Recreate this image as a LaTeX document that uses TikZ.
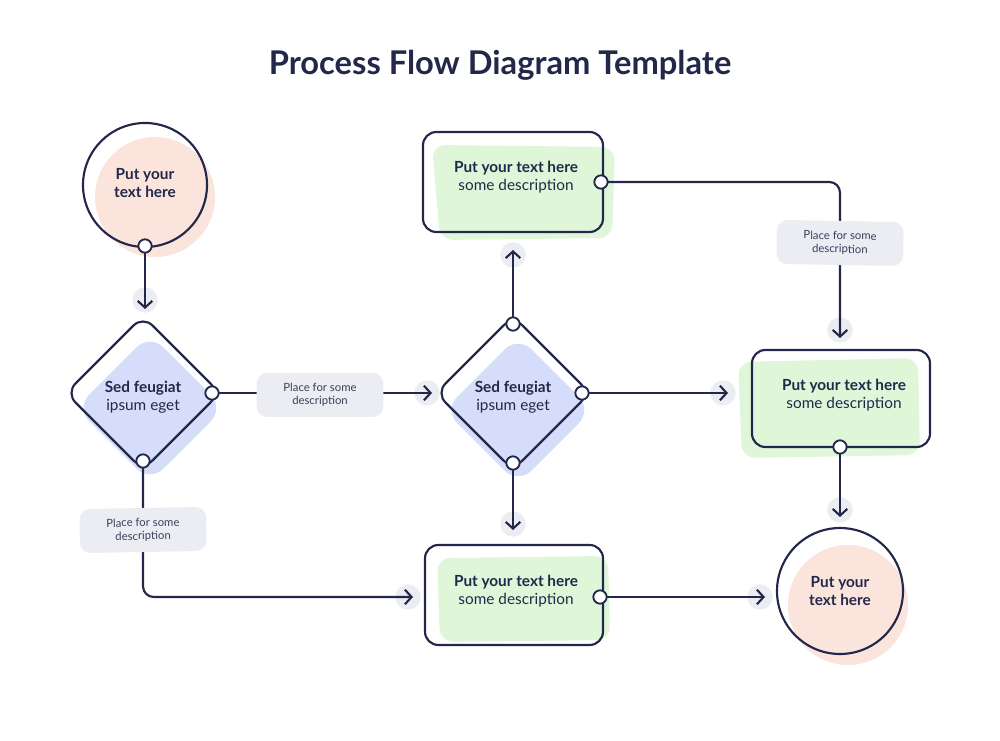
\documentclass[tikz,border=0pt]{standalone}
\usepackage{fontspec}
\setmainfont{Lato}
\usetikzlibrary{arrows.meta}
\definecolor{navy}{HTML}{23284A}
\definecolor{pinkb}{HTML}{FBE4DB}
\definecolor{blueb}{HTML}{D6DDFA}
\definecolor{greenb}{HTML}{E0F6D9}
\definecolor{greyb}{HTML}{ECEDF2}
\definecolor{greyt}{HTML}{3A3F5C}
\tikzset{
  ln/.style={draw=navy,line width=1.6pt},
  arr/.style={ln,-{Straight Barb[length=5pt,width=11pt,line width=1.6pt]},rounded corners=8pt},
  port/.style={circle,draw=navy,fill=white,line width=1.4pt,inner sep=0pt,minimum size=10pt},
  halo/.style={circle,fill=greyb,inner sep=0pt,minimum size=19pt},
  lab/.style={fill=greyb,rounded corners=8pt,minimum width=95pt,minimum height=33pt,align=center,font=\fontsize{8.5}{10}\selectfont,text=greyt},
  ttl/.style={align=center,text=navy,font=\fontsize{11.5}{13.5}\selectfont},
}
\begin{document}
\begin{tikzpicture}[x=0.75pt,y=-0.75pt]
\useasboundingbox (0,0) rectangle (1000,741);
\fill[white] (0,0) rectangle (1000,741);
\node[text=navy,font=\bfseries\fontsize{24.5}{28}\selectfont] (title) at (500,65) {Process Flow Diagram Template};
% blobs
\fill[pinkb] (155,197) circle (60);
\fill[pinkb] (848,605) circle (60);
\fill[blueb,rounded corners=14pt] (150,334)--(224,408)--(150,482)--(76,408)--cycle;
\fill[blueb,rounded corners=14pt] (518,336)--(592,410)--(518,484)--(444,410)--cycle;
\fill[greenb,rounded corners=10pt] (432,145)--(615,147)--(612,238)--(440,240)--cycle;
\fill[greenb,rounded corners=10pt] (738,362)--(918,358)--(920,455)--(742,458)--cycle;
\fill[greenb,rounded corners=10pt] (437,558)--(608,556)--(610,640)--(440,642)--cycle;
% shapes
\draw[ln] (145,185) circle (62);
\node[ttl] (c1) at (145,183) {\textbf{Put your}\\\textbf{text here}};
\draw[ln] (840,591) circle (63);
\node[ttl] (c2) at (840,591) {\textbf{Put your}\\\textbf{text here}};
\draw[ln,rounded corners=10pt] (143,316)--(220,393)--(143,470)--(66,393)--cycle;
\node[ttl] (d1) at (143,397) {\textbf{Sed feugiat}\\ipsum eget};
\draw[ln,rounded corners=10pt] (513,316)--(590,393)--(513,470)--(436,393)--cycle;
\node[ttl] (d2) at (513,397) {\textbf{Sed feugiat}\\ipsum eget};
\draw[ln,rounded corners=10pt] (423,132) rectangle (603,232);
\node[ttl] (b1) at (516,177) {\textbf{Put your text here}\\some description};
\draw[ln,rounded corners=10pt] (752,350) rectangle (930,447);
\node[ttl] (b2) at (844,395) {\textbf{Put your text here}\\some description};
\draw[ln,rounded corners=10pt] (425,545) rectangle (603,645);
\node[ttl] (b3) at (516,591) {\textbf{Put your text here}\\some description};
% halos
\node[halo] (h1) at (145,300) {};
\node[halo] (h2) at (427,393) {};
\node[halo] (h3) at (513,255) {};
\node[halo] (h4) at (723,393) {};
\node[halo] (h5) at (840,330) {};
\node[halo] (h6) at (840,510) {};
\node[halo] (h7) at (513,524) {};
\node[halo] (h8) at (408,597) {};
\node[halo] (h9) at (760,597) {};
% connector ends
\coordinate (p1) at (145,246);
\coordinate (p2) at (212,393);
\coordinate (p3) at (143,461);
\coordinate (p4) at (513,324);
\coordinate (p5) at (582,393);
\coordinate (p6) at (513,463);
\coordinate (p7) at (601,182);
\coordinate (p8) at (840,447);
\coordinate (p9) at (600,597);
\coordinate (e1) at (145,309);
\coordinate (e2) at (432,393);
\coordinate (e3) at (513,250);
\coordinate (e4) at (728,393);
\coordinate (e5) at (840,338);
\coordinate (e6) at (840,517);
\coordinate (e7) at (513,530);
\coordinate (e8) at (413,597);
\coordinate (e9) at (765,597);
\coordinate (k1) at (840,182);
\coordinate (k2) at (143,597);
\draw[arr] (p1) -- (e1);
\draw[arr] (p2) -- (e2);
\draw[arr] (p4) -- (e3);
\draw[arr] (p5) -- (e4);
\draw[arr] (p7) -- (k1) -- (e5);
\draw[arr] (p8) -- (e6);
\draw[arr] (p6) -- (e7);
\draw[arr] (p3) -- (k2) -- (e8);
\draw[arr] (p9) -- (e9);
% ports
\foreach \n in {1,...,9} \node[port] (q\n) at (p\n) {};
% labels
\node[lab] (l1) at (320,395) {Place for some\\description};
\node[lab,rotate=-1] (l2) at (840,243) {Place for some\\description};
\node[lab,rotate=1] (l3) at (143,530) {Place for some\\description};
\end{tikzpicture}
\end{document}
